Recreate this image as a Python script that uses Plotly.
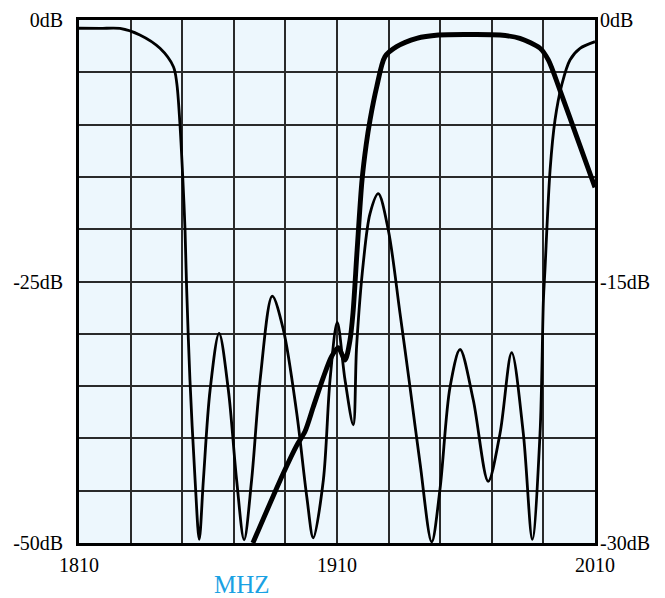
import plotly.graph_objects as go

# ---- data ----
# thin curve: rejection response, left axis (dB, 0 .. -50)
thin_f = [1810.0, 1818.1, 1825.9, 1833.6, 1841.4, 1846.6, 1847.9, 1849.1, 1850.2, 1851.1,
          1851.7, 1853.0, 1855.0, 1856.6, 1858.2, 1860.8, 1864.3, 1867.9,
          1871.1, 1874.0, 1876.9, 1880.2, 1884.9, 1889.2, 1894.4, 1898.3, 1900.8, 1904.7,
          1907.3, 1910.1, 1913.1, 1916.3, 1917.6, 1920.2, 1922.8, 1926.0, 1929.9, 1934.4,
          1938.3, 1942.2, 1946.7, 1949.9, 1953.8, 1957.7, 1962.8, 1968.6, 1973.2, 1977.7,
          1982.2, 1985.7, 1988.7, 1990.0, 1990.6, 1992.6, 1994.5, 1997.1, 2000.3, 2004.2,
          2010.0]
thin_db = [-0.79, -0.81, -0.81, -1.43, -2.71, -4.47, -6.05, -9.85, -14.98, -20.08,
           -25.5, -34.4, -44.0, -49.65, -44.0, -35.4, -29.95, -35.4,
           -44.0, -49.7, -44.0, -34.4, -26.4, -29.6, -37.6, -45.6, -49.5, -44.0,
           -34.4, -28.9, -34.4, -38.7, -31.2, -23.2, -18.5, -16.6, -20.1, -28.0,
           -35.1, -42.4, -49.9, -44.9, -35.1, -31.5, -36.3, -44.1, -39.5, -31.8,
           -39.5, -49.65, -39.5, -26.8, -23.9, -14.3, -9.56, -6.21, -3.82, -2.71,
           -2.07]

# thick curve: passband response, right axis (dB, 0 .. -30)
thick_f = [1877.4, 1889.2, 1894.4, 1897.6, 1900.8, 1904.7, 1907.9, 1910.5, 1913.1, 1915.0,
           1916.2, 1917.8, 1919.7, 1921.3, 1922.8, 1925.4, 1928.6, 1933.1, 1940.9, 1949.3,
           1961.6, 1973.2, 1980.9, 1988.7, 1991.9, 1996.4, 2002.9, 2010.0]
thick_db = [-30.0, -26.0, -24.4, -23.6, -22.2, -20.5, -19.3, -18.8, -19.5, -18.4,
            -16.8, -13.2, -9.18, -7.17, -5.74, -3.83, -2.10, -1.53, -1.05, -0.86,
            -0.83, -0.86, -1.05, -1.62, -2.29, -4.02, -6.69, -9.6]

x_ticks = [1810, 1830, 1850, 1870, 1890, 1910, 1930, 1950, 1970, 1990, 2010]
x_labels = ["1810", "", "", "", "", "1910", "", "", "", "", "2010"]
yl_ticks = [0, -5, -10, -15, -20, -25, -30, -35, -40, -45, -50]
yl_labels = ["0dB", "", "", "", "", "-25dB", "", "", "", "", "-50dB"]
yr_ticks = [0, -15, -30]
yr_labels = ["0dB", "-15dB", "-30dB"]
x_unit = "MHZ"

FONT = "Liberation Serif"

fig = go.Figure()
fig.add_trace(go.Scatter(x=thin_f, y=thin_db, mode="lines",
                         line=dict(color="black", width=2.8, shape="spline", smoothing=0.9),
                         yaxis="y", showlegend=False, hoverinfo="skip"))
fig.add_trace(go.Scatter(x=thick_f, y=thick_db, mode="lines",
                         line=dict(color="black", width=4.9, shape="spline", smoothing=0.8),
                         yaxis="y2", showlegend=False, hoverinfo="skip"))

fig.update_layout(
    width=657, height=590,
    margin=dict(l=71, r=70, t=12, b=55),
    paper_bgcolor="white",
    plot_bgcolor="#EDF7FD",
    font=dict(family=FONT, size=20, color="black"),
    xaxis=dict(range=[1810, 2010], tickvals=x_ticks, ticktext=x_labels,
               showgrid=True, gridcolor="#2a2a2a", gridwidth=1.6,
               showline=True, linecolor="black", linewidth=2.6, mirror=True,
               ticks="", ticklabelstandoff=2, zeroline=False, automargin=False,
               tickfont=dict(family=FONT, size=20)),
    yaxis=dict(range=[-50, 0], tickvals=yl_ticks, ticktext=yl_labels,
               showgrid=True, gridcolor="#2a2a2a", gridwidth=1.6,
               showline=True, linecolor="black", linewidth=2.6, mirror=True,
               ticks="", ticklabelstandoff=9, zeroline=False, automargin=False,
               tickfont=dict(family=FONT, size=20)),
    yaxis2=dict(range=[-30, 0], tickvals=yr_ticks, ticktext=yr_labels,
                overlaying="y", side="right", showgrid=False, zeroline=False,
                showline=False, ticks="", ticklabelstandoff=4, automargin=False,
                tickfont=dict(family=FONT, size=20)),
    annotations=[dict(text=x_unit, xref="paper", yref="paper", x=0.315, y=-0.080,
                      xanchor="center", yanchor="middle", showarrow=False,
                      font=dict(family=FONT, size=25, color="#1AA1E3"))],
)

fig.write_html("out.html")
